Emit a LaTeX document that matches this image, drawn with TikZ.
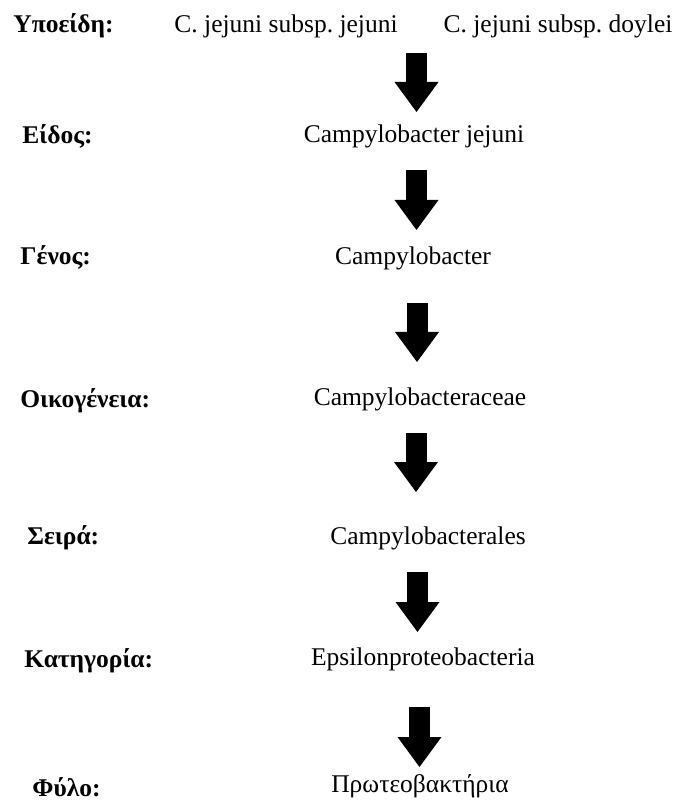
\documentclass[tikz,border=0pt]{standalone}
\usepackage{fontspec}
\setmainfont{Liberation Serif}
\usetikzlibrary{arrows.meta}
\frenchspacing

\begin{document}
\begin{tikzpicture}[
    x=0.5pt, y=-0.5pt,
    every node/.style={inner sep=0pt, font=\fontsize{12.75}{15}\selectfont},
    rank/.style={anchor=base west, font=\fontsize{12.75}{15}\selectfont\bfseries},
    taxon/.style={anchor=base},
    blockarrow/.style={line width=10.5pt, -{Triangle[width=22pt, length=15pt, line width=0pt]}}
]
\useasboundingbox (0,0) rectangle (678,801);
\node[rank] (subspecies) at (13,33) {Υποείδη:};
\node[taxon] (jejuni) at (286,33) {C. jejuni subsp. jejuni};
\node[taxon] (doylei) at (558,33) {C. jejuni subsp. doylei};
\node[rank] (species) at (22,144) {Είδος:};
\node[taxon] (cjejuni) at (414,143) {Campylobacter jejuni};
\node[rank] (genus) at (20,265) {Γένος:};
\node[taxon] (campy) at (413,265) {Campylobacter};
\node[rank] (family) at (20,407) {Οικογένεια:};
\node[taxon] (campyaceae) at (420,405) {Campylobacteraceae};
\node[rank] (order) at (27,544) {Σειρά:};
\node[taxon] (campyales) at (428,544) {Campylobacterales};
\node[rank] (class) at (24,667) {Κατηγορία:};
\node[taxon] (epsilon) at (423,665) {Epsilonproteobacteria};
\node[rank] (phylum) at (32,796) {Φύλο:};
\node[taxon] (proteo) at (420,792) {Πρωτεοβακτήρια};
% block arrows between the ranks
\coordinate (top1) at (416.5,53);  \coordinate (tip1) at (416.5,112);
\coordinate (top2) at (416.5,170); \coordinate (tip2) at (416.5,230);
\coordinate (top3) at (417,303);   \coordinate (tip3) at (417,362);
\coordinate (top4) at (416,433);   \coordinate (tip4) at (416,492);
\coordinate (top5) at (417.5,572); \coordinate (tip5) at (417.5,632);
\coordinate (top6) at (419.5,707); \coordinate (tip6) at (419.5,767);
\draw[blockarrow] (top1) -- (tip1);
\draw[blockarrow] (top2) -- (tip2);
\draw[blockarrow] (top3) -- (tip3);
\draw[blockarrow] (top4) -- (tip4);
\draw[blockarrow] (top5) -- (tip5);
\draw[blockarrow] (top6) -- (tip6);
\end{tikzpicture}
\end{document}
